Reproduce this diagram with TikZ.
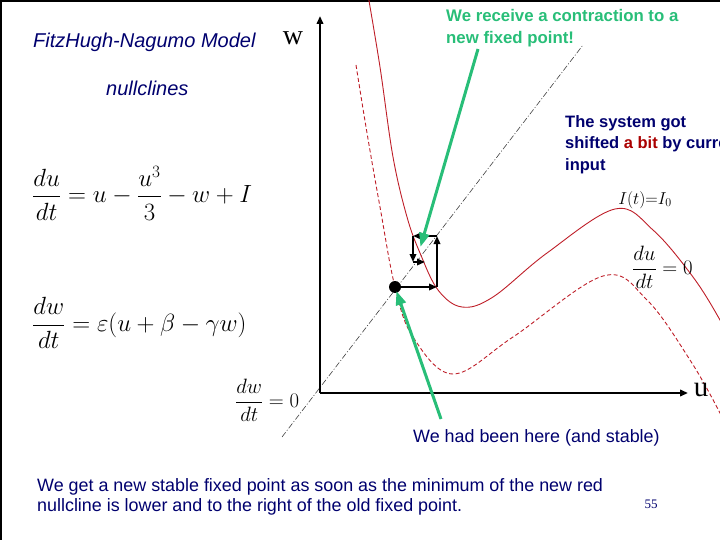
\documentclass[tikz,border=0pt]{standalone}
\usepackage{amsmath}
\usepackage{fontspec}
\setmainfont{Liberation Serif}
\setsansfont{Liberation Sans}
\usetikzlibrary{arrows.meta}

\definecolor{navy}{RGB}{0,0,110}
\definecolor{darkred}{RGB}{170,0,0}
\definecolor{clinered}{RGB}{190,30,40}
\definecolor{arrowgreen}{RGB}{40,190,120}

\tikzset{
  axis/.style={line width=2pt},
  cob/.style={line width=1.8pt},
  newcline/.style={clinered, line width=0.9pt},
  oldcline/.style={clinered, line width=0.9pt, dash pattern=on 4pt off 2.5pt},
  wcline/.style={black!75, line width=0.6pt, dash pattern=on 6pt off 2pt on 1pt off 2pt},
  greenarrow/.style={arrowgreen, line width=3pt, -{Triangle[length=14pt,width=10pt]}, shorten >=-2pt},
  navyit/.style={inner sep=0pt, text=navy, font=\sffamily\itshape\fontsize{20}{22}\selectfont},
  navytxt/.style={inner sep=0pt, align=left, text=navy, font=\sffamily\fontsize{17.9}{20.5}\selectfont},
  navybf/.style={inner sep=0pt, align=left, text=navy, font=\sffamily\bfseries\fontsize{16.5}{21.5}\selectfont},
  greentxt/.style={inner sep=0pt, align=left, text=arrowgreen, font=\sffamily\bfseries\fontsize{16.8}{22}\selectfont},
  eqn/.style={inner sep=0pt, font=\fontsize{25}{30}\selectfont}
}

\begin{document}
\begin{tikzpicture}[x=1pt, y=-1pt, >={Triangle[length=8pt,width=6.5pt]}]
\useasboundingbox (0,0) rectangle (720,540);
\clip (0,0) rectangle (720,540);
%--- slide frame ---
\draw[line width=2pt] (1,540) -- (1,1) -- (720,1);

%--- w-nullcline ---
\draw[wcline] (282,437) -- (583,45);

%--- u-nullclines: old (dashed) and shifted by I0 (solid) ---
\draw[oldcline] plot[smooth, tension=0.6] coordinates {(356,65) (367,133) (380,207) (395,287) (413,337) (453,374) (513,337) (603,276) (647,300) (690,360) (720,413) (732,440)};
\draw[newcline] plot[smooth, tension=0.6] coordinates {(368,-5) (380,67) (393,157) (407,217) (420,253) (438,290) (462,307) (493,297) (547,253) (615,209) (653,230) (693,277) (720,320) (732,345)};

%--- Axes ---
\coordinate (O) at (320,393);
\coordinate (wtip) at (320,16);
\coordinate (utip) at (688,393);
\draw[axis, ->] (O) -- (wtip);
\draw[axis, ->] (O) -- (utip);
\node[inner sep=0pt, font=\fontsize{28}{30}\selectfont] (wlab) at (293,38) {w};
\node[inner sep=0pt, font=\fontsize{29}{30}\selectfont] (ulab) at (701,390) {u};

%--- old fixed point and relaxation steps ---
\node[circle, fill, inner sep=0pt, minimum size=12pt] (oldfp) at (395,287) {};
\coordinate (c1) at (437,287);
\coordinate (c2) at (437,236);
\coordinate (c3) at (413,236);
\coordinate (c4) at (413,262);
\coordinate (c5) at (425,262);
\draw[cob, ->] (oldfp) -- (c1);
\draw[cob, ->] (c1) -- (c2);
\draw[cob, ->] (c2) -- (c3);
\draw[cob, ->] (c3) -- (c4);
\draw[cob, ->] (c4) -- (c5);

%--- Annotations ---
\node[greentxt, anchor=north west] (recv) at (446,9) {We receive a contraction to a\\new fixed point!};
\coordinate (recvtail) at (478,49);
\coordinate (newfp) at (421,245);
\draw[greenarrow] (recvtail) -- (newfp);

\node[navytxt, anchor=base west, font=\sffamily\fontsize{17.9}{20}\selectfont] (here) at (413,442) {We had been here (and stable)};
\coordinate (heretail) at (441,419);
\draw[greenarrow] (heretail) -- (oldfp);

\node[navybf, anchor=north west] (shift) at (565,115) {The system got\\shifted {\color{darkred}a bit} by current\\input};
\node[inner sep=0pt, font=\fontsize{17}{20}\selectfont] (izero) at (645,200) {$I(t){=}I_0$};
\node[inner sep=0pt, font=\fontsize{22}{26}\selectfont, anchor=west] (dudt) at (632,267) {$\dfrac{du}{dt}=0$};

% Model equations
\node[navyit, anchor=base west] (title) at (33,48) {FitzHugh-Nagumo Model};
\node[navyit, anchor=base west] (ncl) at (106,96) {nullclines};
\node[eqn, anchor=west] (equ) at (32,193) {$\dfrac{du}{dt} = u - \dfrac{u^3}{3} - w + I$};
\node[eqn, anchor=west] (eqw) at (32,323) {$\dfrac{dw}{dt} = \varepsilon(u + \beta - \gamma w)$};
\node[inner sep=0pt, font=\fontsize{20}{24}\selectfont, anchor=west] (dwdt) at (235,400) {$\dfrac{dw}{dt} = 0$};

\node[navytxt, anchor=north west] (concl) at (37,478) {We get a new stable fixed point as soon as the minimum of the new red\\nullcline is lower and to the right of the old fixed point.};
\node[inner sep=0pt, text=navy, font=\fontsize{13}{15}\selectfont] (page) at (651,504) {55};
\end{tikzpicture}
\end{document}
